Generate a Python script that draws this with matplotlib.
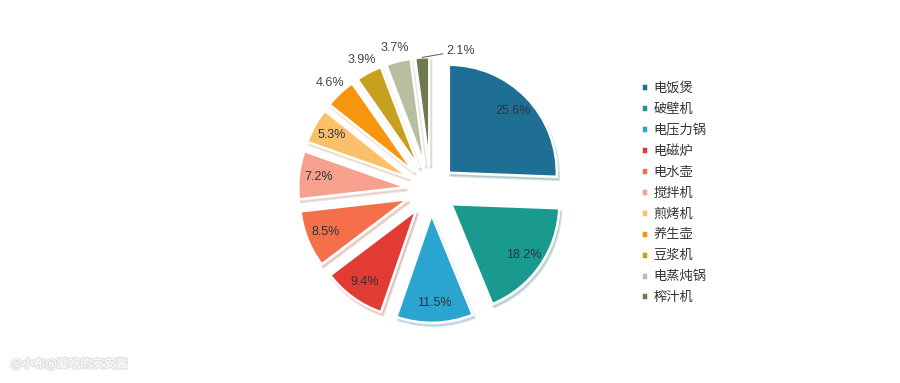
import numpy as np
import matplotlib.pyplot as plt
import matplotlib.patheffects as pe

plt.rcParams['font.family'] = ['Noto Sans CJK SC', 'DejaVu Sans']

categories = ['电饭煲', '破壁机', '电压力锅', '电磁炉', '电水壶', '搅拌机',
              '煎烤机', '养生壶', '豆浆机', '电蒸炖锅', '榨汁机']
shares = [25.6, 18.2, 11.5, 9.4, 8.5, 7.2, 5.3, 4.6, 3.9, 3.7, 2.1]
colors = ['#1f6f95', '#1a9a8e', '#2ba4cf', '#e23b33', '#f5704a', '#f8a08e',
          '#fcc06a', '#f7950f', '#c8a020', '#b7bfa0', '#6e7b4e']
n_inside = 7  # first slices get the label inside

fig = plt.figure(figsize=(9, 3.83), dpi=100)
ax = fig.add_axes([0, 0, 1, 1])

wedges, _ = ax.pie(shares, colors=colors, startangle=90, counterclock=False,
                   explode=[0.23] * len(shares),
                   wedgeprops=dict(edgecolor='white', linewidth=1.8),
                   shadow=dict(ox=0.012, oy=-0.02, shade=0.3, alpha=0.18))

num_font = ['Liberation Sans Narrow', 'Liberation Sans', 'DejaVu Sans']
for i, (w, v) in enumerate(zip(wedges, shares)):
    mid = np.deg2rad((w.theta1 + w.theta2) / 2)
    cx, cy = w.center
    label = f'{v}%'
    if i < n_inside:
        d = 0.82
        ax.text(cx + d * np.cos(mid), cy + d * np.sin(mid), label,
                ha='center', va='center', fontsize=9, color='#2b3440',
                family=num_font)
    elif i < len(shares) - 1:
        d = 1.13
        ax.text(cx + d * np.cos(mid), cy + d * np.sin(mid), label,
                ha='center', va='center', fontsize=9, color='#444444',
                family=num_font)
    else:
        # smallest slice: label to the right with a short leader line
        tang = mid - np.deg2rad(12)
        ax.annotate(label, xy=(cx + 1.0 * np.cos(mid), cy + 1.0 * np.sin(mid)),
                    xytext=(cx + 1.07 * np.cos(tang), cy + 1.07 * np.sin(tang)),
                    ha='left', va='center', fontsize=9, color='#444444',
                    family=num_font,
                    arrowprops=dict(arrowstyle='-', color='#555555', lw=0.7,
                                    shrinkA=0, shrinkB=0))

# axis limits so that the pie sits where it does in the picture
ax.set_aspect('auto')
ax.set_xlim(-3.99, 4.343)
ax.set_ylim(-1.787, 1.759)
ax.axis('off')

ax.legend(wedges, categories, loc='upper left', bbox_to_anchor=(0.699, 0.817),
          frameon=False, fontsize=9.5, handlelength=0.55, handleheight=0.55,
          handletextpad=0.4, labelspacing=0.6, labelcolor='#333333')

fig.text(0.012, 0.04, '@小布@爱吃的安安酱', fontsize=8.5, color='white',
         path_effects=[pe.withStroke(linewidth=1.8, foreground='#e2e2e2')])

plt.savefig('out.png', dpi=100)
plt.close()
